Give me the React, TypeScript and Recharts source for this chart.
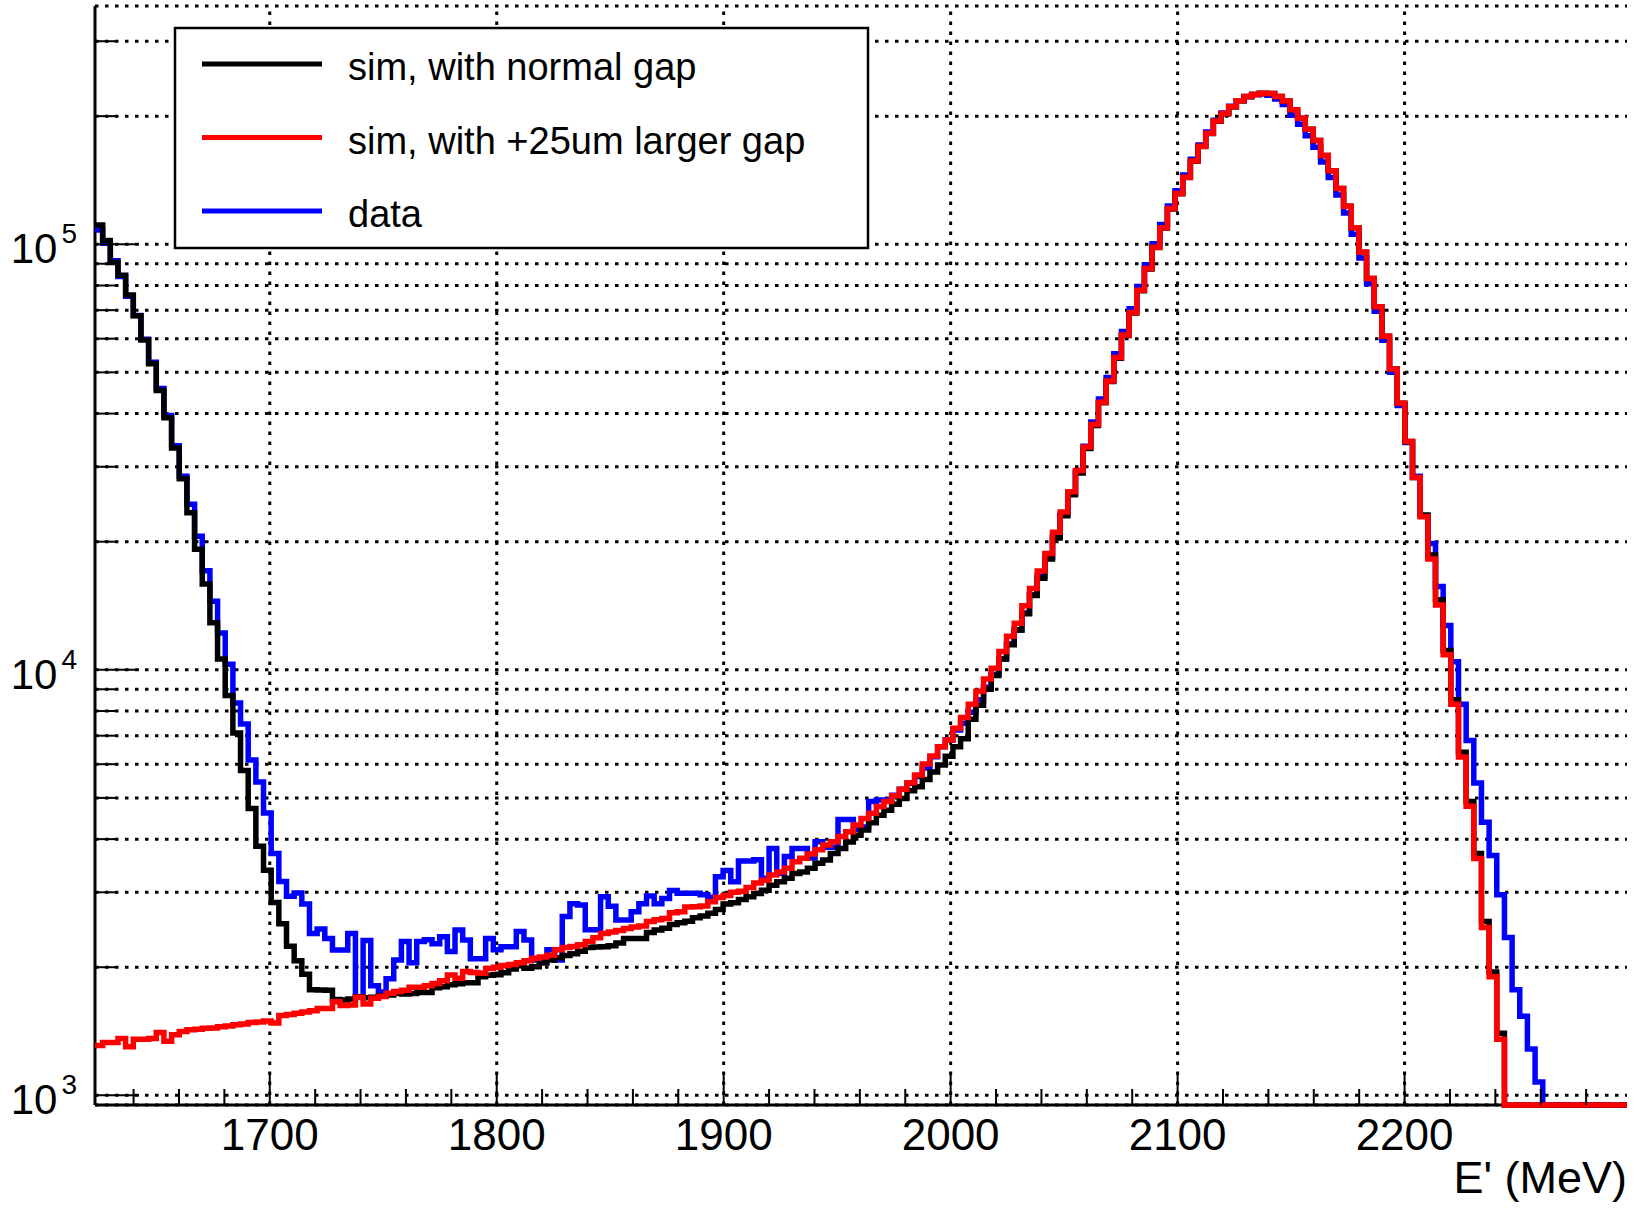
import React from "react";
import {
  ComposedChart,
  Line,
  XAxis,
  YAxis,
  CartesianGrid,
  ReferenceLine,
  Legend,
} from "recharts";

// E' binning: 200 bins of 3.375 MeV
const E_MIN = 1623;
const E_MAX = 2298;
const BIN_WIDTH = 3.375;

// log axis range
const Y_MIN = 949;
const Y_MAX = 363000;

// counts per bin
const simNormal = [
  111000, 102000, 90600, 84600, 76000, 67900, 59600, 52400, 45300, 39100,
  33200, 28100, 23400, 19200, 15900, 12900, 10600, 8700, 7100, 5800,
  4720, 3850, 3380, 2840, 2530, 2240, 2070, 1925, 1770, 1768,
  1765, 1680, 1675, 1685, 1705, 1695, 1700, 1715, 1722, 1738,
  1730, 1735, 1745, 1745, 1790, 1800, 1820, 1830, 1838, 1838,
  1900, 1915, 1920, 1940, 1980, 2015, 1990, 2005, 2045, 2080,
  2105, 2130, 2150, 2180, 2225, 2230, 2235, 2245, 2280, 2335,
  2335, 2335, 2415, 2445, 2470, 2520, 2545, 2565, 2615, 2640,
  2680, 2735, 2817, 2835, 2885, 2928, 2980, 3035, 3118, 3175,
  3235, 3320, 3350, 3415, 3510, 3573, 3700, 3800, 3940, 4085,
  4200, 4370, 4550, 4675, 4830, 4985, 5195, 5310, 5525, 5755,
  5970, 6265, 6590, 6890, 7650, 8250, 9000, 9700, 10600, 11450,
  12400, 13550, 14950, 16400, 18200, 20400, 23000, 25800, 29000, 33100,
  37500, 42400, 47600, 54000, 61000, 68900, 77800, 87500, 98200, 109200,
  121000, 131500, 143500, 156700, 169700, 182000, 194500, 202500, 210300, 217300,
  222300, 225000, 226500, 226000, 222500, 217000, 207000, 197700, 186200, 175300,
  161600, 148900, 135300, 122800, 109300, 95800, 83100, 71300, 60800, 50900,
  42300, 34400, 28300, 23100, 18600, 14600, 11100, 8500, 6400, 4900,
  3700, 2560, 1950, 1400, 0, 0, 0, 0, 0, 0,
  0, 0, 0, 0, 0, 0, 0, 0, 0, 0,
];

const simWideGap = [
  1310, 1330, 1330, 1360, 1300, 1355, 1355, 1360, 1405, 1340,
  1387, 1412, 1425, 1430, 1438, 1440, 1450, 1455, 1465, 1472,
  1482, 1488, 1495, 1478, 1540, 1548, 1560, 1570, 1580, 1600,
  1600, 1660, 1625, 1630, 1700, 1640, 1690, 1706, 1738, 1755,
  1765, 1795, 1795, 1810, 1832, 1858, 1918, 1885, 1955, 1945,
  1935, 1985, 2000, 2020, 2030, 2050, 2070, 2100, 2115, 2135,
  2197, 2225, 2238, 2260, 2300, 2345, 2400, 2420, 2440, 2465,
  2488, 2500, 2560, 2585, 2605, 2685, 2700, 2770, 2775, 2785,
  2850, 2915, 2950, 3000, 3015, 3080, 3155, 3200, 3295, 3350,
  3415, 3540, 3605, 3690, 3775, 3875, 3945, 4055, 4165, 4315,
  4475, 4600, 4770, 4900, 5055, 5240, 5430, 5660, 6010, 6270,
  6590, 6835, 7285, 7730, 8300, 8900, 9510, 10090, 11040, 11990,
  12860, 14140, 15520, 17060, 18760, 21040, 23500, 26200, 29380, 33400,
  37700, 42550, 47700, 54200, 61200, 69100, 78000, 87700, 98400, 109400,
  121300, 131600, 143700, 156900, 169900, 182300, 194800, 202800, 210500, 217500,
  222500, 225000, 226500, 226000, 222500, 217000, 207000, 197700, 186200, 175300,
  161600, 148900, 135300, 122800, 109300, 95800, 83100, 71300, 60800, 50900,
  42300, 34400, 28300, 22900, 18200, 14200, 10850, 8300, 6240, 4780,
  3600, 2480, 1900, 1355, 0, 0, 0, 0, 0, 0,
  0, 0, 0, 0, 0, 0, 0, 0, 0, 0,
];

const dataCounts = [
  108000, 100500, 91500, 84000, 75500, 68000, 59800, 52800, 45800, 39600,
  33600, 28500, 24500, 20600, 17100, 14500, 12200, 10300, 8350, 7460,
  6140, 5450, 4610, 3700, 3180, 2935, 2990, 2815, 2400, 2460,
  2335, 2195, 2195, 2400, 1700, 2310, 1810, 1750, 1880, 2080,
  2300, 2050, 2300, 2320, 2270, 2360, 2178, 2445, 2318, 2095,
  2095, 2335, 2197, 2235, 2235, 2425, 2318, 2080, 2080, 2197,
  2080, 2630, 2820, 2800, 2450, 2450, 2930, 2780, 2582, 2582,
  2700, 2820, 2940, 2820, 2900, 3030, 2985, 2985, 2985, 2960,
  2920, 3265, 3375, 3175, 3555, 3555, 3580, 3236, 3800, 3325,
  3640, 3800, 3800, 3610, 3945, 3830, 3830, 4450, 4450, 4215,
  4270, 4900, 4945, 4945, 5075, 5240, 5410, 5610, 5880, 6250,
  6590, 6835, 7220, 7490, 7950, 8500, 9100, 9750, 10600, 11500,
  12400, 13600, 15000, 16600, 18400, 20600, 23200, 26000, 29300, 33500,
  38200, 43300, 48600, 55300, 62400, 70500, 79600, 89500, 100300, 111300,
  123000, 133500, 145500, 158500, 171000, 183500, 195500, 203500, 211000, 217500,
  222500, 225000, 225500, 224000, 219500, 213000, 201000, 191500, 180000, 169000,
  156000, 143500, 130500, 118500, 105500, 92800, 80800, 69600, 59500, 50000,
  41800, 34200, 28500, 23000, 19800, 15700, 12700, 10450, 8300, 6820,
  5420, 4380, 3660, 2960, 2350, 1770, 1535, 1285, 1075, 0,
  0, 0, 0, 0, 0, 0, 0, 0, 0, 0,
];

const X_LABELS = [1700, 1800, 1900, 2000, 2100, 2200];
const Y_DECADES = [1000, 10000, 100000];
const Y_MULTIPLES = [1, 2, 3, 4, 5, 6, 7, 8, 9];

// minor ticks every 20 MeV, majors every 100
const X_TICKS: number[] = [];
for (let e = 1640; e <= 2280; e += 20) X_TICKS.push(e);
const Y_TICKS = Y_DECADES.flatMap((d) => Y_MULTIPLES.map((m) => m * d)).filter(
  (v) => v <= Y_MAX
);

const SERIES = [
  { key: "normal", name: "sim, with normal gap", color: "#000000" },
  { key: "wide", name: "sim, with +25um larger gap", color: "#ff0000" },
  { key: "data", name: "data", color: "#0000ff" },
];

// one row per bin low edge, plus the closing edge; empty bins sit on the frame
const rows = simNormal.map((_, i) => ({
  e: E_MIN + i * BIN_WIDTH,
  normal: Math.max(simNormal[i], Y_MIN),
  wide: Math.max(simWideGap[i], Y_MIN),
  data: Math.max(dataCounts[i], Y_MIN),
}));
rows.push({ ...rows[rows.length - 1], e: E_MAX });

const FONT = "'Liberation Sans', Arial, Helvetica, sans-serif";
const FRAME = { stroke: "#000", strokeWidth: 3 };
const GRID_DOTS = "3.5 6.5";
const HIST_WIDTH = 5.5;

function BottomTick({ x, y, payload }: any) {
  const major = X_LABELS.includes(payload.value);
  return (
    <g>
      <line x1={x} x2={x} y1={y} y2={y - (major ? 33 : 16)} stroke="#000" strokeWidth={2} />
      {major && (
        <text x={x} y={y + 45} textAnchor="middle" fontFamily={FONT} fontSize={44} fill="#000">
          {payload.value}
        </text>
      )}
    </g>
  );
}

function TopTick({ x, y, payload }: any) {
  const major = X_LABELS.includes(payload.value);
  return <line x1={x} x2={x} y1={y} y2={y + (major ? 33 : 16)} stroke="#000" strokeWidth={2} />;
}

function LeftTick({ x, y, payload }: any) {
  const major = Y_DECADES.includes(payload.value);
  const exp = Math.round(Math.log10(payload.value));
  return (
    <g>
      <line x1={x} x2={x + (major ? 44 : 22)} y1={y} y2={y} stroke="#000" strokeWidth={2} />
      {major && (
        <text x={x - 18} y={y + 19} textAnchor="end" fontFamily={FONT} fontSize={42} fill="#000">
          10
          <tspan dx={4} dy={-20} fontSize={28}>
            {exp}
          </tspan>
        </text>
      )}
    </g>
  );
}

function RightTick({ x, y, payload }: any) {
  const major = Y_DECADES.includes(payload.value);
  return <line x1={x} x2={x - (major ? 44 : 22)} y1={y} y2={y} stroke="#000" strokeWidth={2} />;
}

function AxisTitle(props: any) {
  const vb = props.viewBox || {};
  const right = (vb.x ?? 95) + (vb.width ?? 1532);
  const top = vb.y ?? 1105;
  return (
    <text x={right} y={top + 88} textAnchor="end" fontFamily={FONT} fontSize={45} fill="#000">
      E' (MeV)
    </text>
  );
}

function LegendBox() {
  return (
    <svg width={698} height={226} style={{ display: "block" }}>
      <rect x={2} y={2} width={693} height={220} fill="#fff" stroke="#000" strokeWidth={2.5} />
      {SERIES.map((s, i) => {
        const cy = 38 + i * 73.5;
        return (
          <g key={s.key}>
            <line x1={29} x2={149} y1={cy} y2={cy} stroke={s.color} strokeWidth={5} />
            <text x={175} y={cy + 16} fontFamily={FONT} fontSize={38} fill="#000">
              {s.name}
            </text>
          </g>
        );
      })}
    </svg>
  );
}

export default function App() {
  return (
    <div style={{ position: "absolute", left: 0, top: 0, width: 1640, height: 1210, background: "#fff" }}>
      <ComposedChart
        width={1640}
        height={1210}
        data={rows}
        margin={{ top: 6, right: 13, bottom: 0, left: 0 }}
      >
        <CartesianGrid vertical={false} stroke="#000" strokeWidth={3} strokeDasharray={GRID_DOTS} />
        {X_LABELS.map((v) => (
          <ReferenceLine key={v} x={v} stroke="#000" strokeWidth={3} strokeDasharray={GRID_DOTS} />
        ))}
        <XAxis
          dataKey="e"
          type="number"
          domain={[E_MIN, E_MAX]}
          ticks={X_TICKS}
          interval={0}
          height={105}
          tickLine={false}
          tickSize={0}
          tickMargin={0}
          axisLine={FRAME}
          tick={<BottomTick />}
          label={{ value: "E' (MeV)", content: AxisTitle }}
        />
        <XAxis
          xAxisId="top"
          orientation="top"
          type="number"
          domain={[E_MIN, E_MAX]}
          ticks={X_TICKS}
          interval={0}
          height={0}
          tickLine={false}
          tickSize={0}
          tickMargin={0}
          axisLine={FRAME}
          tick={<TopTick />}
        />
        <YAxis
          type="number"
          scale="log"
          domain={[Y_MIN, Y_MAX]}
          ticks={Y_TICKS}
          interval={0}
          width={95}
          tickLine={false}
          tickSize={0}
          tickMargin={0}
          axisLine={FRAME}
          tick={<LeftTick />}
        />
        <YAxis
          yAxisId="right"
          orientation="right"
          type="number"
          scale="log"
          domain={[Y_MIN, Y_MAX]}
          ticks={Y_TICKS}
          interval={0}
          width={0}
          tickLine={false}
          tickSize={0}
          tickMargin={0}
          axisLine={FRAME}
          tick={<RightTick />}
        />
        <Line type="stepAfter" dataKey="data" stroke="#0000ff" strokeWidth={HIST_WIDTH} dot={false} activeDot={false} isAnimationActive={false} zIndex={600} />
        <Line type="stepAfter" dataKey="normal" stroke="#000000" strokeWidth={HIST_WIDTH} dot={false} activeDot={false} isAnimationActive={false} zIndex={610} />
        <Line type="stepAfter" dataKey="wide" stroke="#ff0000" strokeWidth={HIST_WIDTH} dot={false} activeDot={false} isAnimationActive={false} zIndex={620} />
        <Legend
          content={LegendBox}
          layout="vertical"
          align="center"
          verticalAlign="middle"
          wrapperStyle={{ left: 173, top: 26, width: 698, height: 226 }}
        />
      </ComposedChart>
    </div>
  );
}
